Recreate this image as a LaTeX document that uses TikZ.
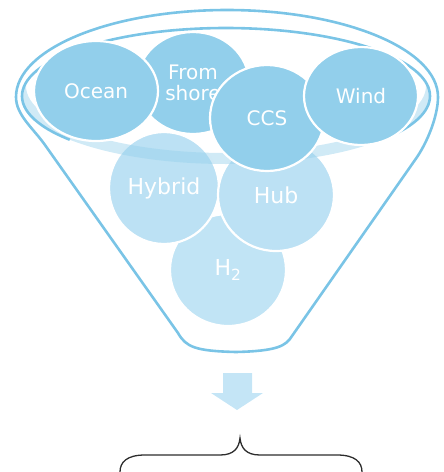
\documentclass[tikz,border=0pt]{standalone}
\usepackage{fontspec}
\setmainfont{DejaVu Sans}
\usetikzlibrary{shapes.geometric}
\definecolor{rimblue}{RGB}{122,196,230}
\definecolor{topblue}{RGB}{146,207,235}
\definecolor{lowblue}{RGB}{188,225,244}
\definecolor{hblue}{RGB}{193,228,245}
\definecolor{bandblue}{RGB}{150,208,236}
\definecolor{arrowblue}{RGB}{196,229,246}
\definecolor{bracegray}{RGB}{45,45,45}
\tikzset{
  bubble/.style={ellipse, draw=white, line width=2.2pt, inner sep=0pt,
    text=white, align=center},
  topbubble/.style={bubble, fill=topblue, font=\fontsize{20}{21.5}\selectfont},
  lowbubble/.style={bubble, fill=lowblue, font=\fontsize{22}{24}\selectfont},
  rim/.style={draw=rimblue, line width=2.6pt},
}
\begin{document}
\begin{tikzpicture}[x=1pt,y=-1pt]
\useasboundingbox (0,0) rectangle (444,472);

% lower layer of bubbles
\node[lowbubble, fill=hblue, minimum width=116, minimum height=112] (h2) at (228,270) {H\textsubscript{2}};
\node[lowbubble, minimum width=110, minimum height=112] (hybrid) at (164,188) {Hybrid};
\node[lowbubble, minimum width=116, minimum height=112] (hub) at (276,195) {Hub};

% shaded lower inside of the rim
\begin{scope}
  \clip (226,96) ellipse [x radius=204, y radius=68];
  \fill[bandblue, opacity=0.45, even odd rule]
    (226,96) ellipse [x radius=204, y radius=68]
    (226,86) ellipse [x radius=200, y radius=67];
\end{scope}

% funnel body
\draw[rim, line join=round]
  (16,97) arc[start angle=180, end angle=360, x radius=211, y radius=87]
  .. controls (438,115) and (428,142) .. (415,160)
  -- (292,336)
  .. controls (286,346) and (277,351) .. (236,352)
  .. controls (195,351) and (186,347) .. (178,333)
  -- (45,145)
  .. controls (33,128) and (16,115) .. (16,97);
% inner opening of the rim
\draw[rim] (226,96) ++(140:204 and 68)
  arc[start angle=140, end angle=400, x radius=204, y radius=68];

% upper layer of bubbles
\node[topbubble, minimum width=112, minimum height=102] (shore) at (193,83) {From\\shore};
\node[topbubble, minimum width=124, minimum height=100] (ocean) at (96,91) {Ocean};
\node[topbubble, minimum width=114, minimum height=106] (ccs) at (267,118) {CCS};
\node[topbubble, minimum width=114, minimum height=98] (wind) at (361,96) {Wind};

% output arrow
\fill[arrowblue] (223,373) -- (252,373) -- (252,393) -- (263,393) -- (237,410)
  -- (211,393) -- (223,393) -- cycle;

% brace
\draw[bracegray, line width=1.3pt]
  (120,472) .. controls (120,462) and (127,455) .. (145,455)
  -- (220,455) .. controls (234,455) and (239,448) .. (240,438)
  .. controls (241,448) and (246,455) .. (260,455)
  -- (337,455) .. controls (355,455) and (362,462) .. (362,472);
\end{tikzpicture}
\end{document}
